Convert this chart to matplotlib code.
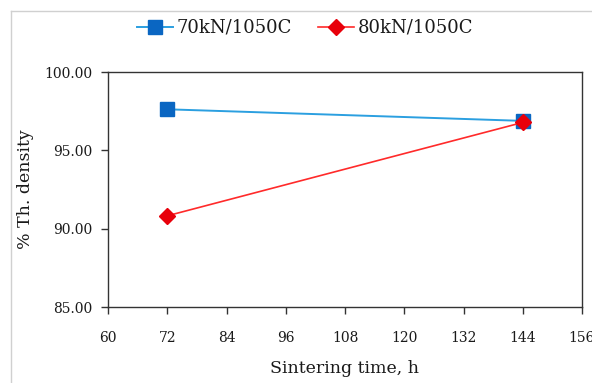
import matplotlib
matplotlib.use('Agg')
import matplotlib.pyplot as plt
from matplotlib.lines import Line2D
from matplotlib.ticker import FormatStrFormatter

# data
hours = [72, 144]
dens_70kN = [97.62, 96.88]
dens_80kN = [90.82, 96.78]
labels = ['70kN/1050C', '80kN/1050C']
xticks = list(range(60, 157, 12))
yticks = [85, 90, 95, 100]

plt.rcParams['font.family'] = ['DejaVu Serif']
txt = '#1a1a1a'

fig = plt.figure(figsize=(5.92, 3.83), dpi=100)
ax = fig.add_axes([108/592, 1 - 307/383, (582 - 108)/592, (307 - 72)/383])

ax.plot(hours, dens_70kN, color='#2b9fe0', lw=1.4, marker='s', ms=10,
        mfc='#0a66c2', mec='#0a66c2', label=labels[0])
ax.plot(hours, dens_80kN, color='#ff2a2a', lw=1.2, marker='D', ms=8,
        mfc='#e8000b', mec='#e8000b', label=labels[1])

ax.set_xlim(60, 156)
ax.set_ylim(85, 100)
ax.set_xticks(xticks)
ax.set_yticks(yticks)
ax.yaxis.set_major_formatter(FormatStrFormatter('%.2f'))
ax.tick_params(direction='out', length=5, width=1, colors='#333333',
               labelcolor=txt, labelsize=10)
ax.tick_params(axis='x', pad=12)
ax.tick_params(axis='y', pad=6.5)
for s in ax.spines.values():
    s.set_color('#333333')
    s.set_linewidth(1)

ax.set_xlabel('Sintering time, h', fontsize=12.5, color=txt, labelpad=11)
ax.set_ylabel('% Th. density', fontsize=12.5, color=txt, labelpad=7)

fig.legend(loc='center', bbox_to_anchor=(305/592, 1 - 28/383), ncol=2,
           frameon=False, fontsize=13, handlelength=2.0, columnspacing=1.4,
           handletextpad=0.2, labelcolor=txt)

# thin grey frame of the original picture (top and left edges only)
fig.add_artist(Line2D([10.5/592, 1], [1 - 11/383, 1 - 11/383],
                      transform=fig.transFigure, color='#d0d0d0', lw=1))
fig.add_artist(Line2D([10.5/592, 10.5/592], [0, 1 - 11/383],
                      transform=fig.transFigure, color='#d0d0d0', lw=1))

fig.savefig('out.png', dpi=100)
